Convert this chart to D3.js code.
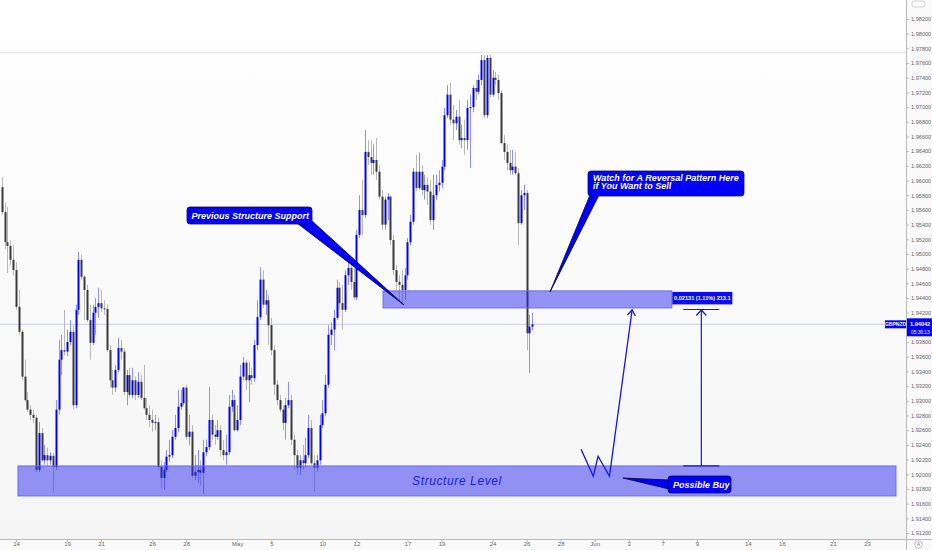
<!DOCTYPE html>
<html><head><meta charset="utf-8">
<script src="https://cdn.jsdelivr.net/npm/d3@7"></script>
<style>
html,body{margin:0;padding:0;background:#fafafa;}
svg{display:block;font-family:"Liberation Sans",Arial,sans-serif;}
</style></head>
<body>
<svg id="c" width="932" height="550"></svg>
<script>
// GBPNZD 4H candles: [open, high, low, close]; first candle is index -5 (Apr 13, 2021)
const firstIndex = -5;
const ohlc = [
[1.9591,1.9605,1.9553,1.9557],[1.9557,1.9570,1.9507,1.9516],[1.9516,1.9564,1.9474,1.9511],[1.9511,1.9519,1.9485,1.9492],
[1.9492,1.9512,1.9471,1.9478],[1.9478,1.9489,1.9424,1.9428],[1.9428,1.9451,1.9390,1.9394],[1.9394,1.9397,1.9328,1.9333],
[1.9333,1.9356,1.9298,1.9301],[1.9301,1.9312,1.9285,1.9288],[1.9288,1.9294,1.9274,1.9281],[1.9281,1.9288,1.9270,1.9277],
[1.9277,1.9281,1.9203,1.9206],[1.9206,1.9271,1.9203,1.9256],[1.9256,1.9263,1.9217,1.9219],[1.9219,1.9240,1.9213,1.9226],
[1.9226,1.9236,1.9211,1.9219],[1.9219,1.9230,1.9213,1.9225],[1.9225,1.9229,1.9175,1.9210],[1.9210,1.9301,1.9206,1.9288],
[1.9288,1.9383,1.9281,1.9356],[1.9356,1.9390,1.9335,1.9369],[1.9369,1.9424,1.9362,1.9367],[1.9367,1.9397,1.9361,1.9380],
[1.9380,1.9410,1.9376,1.9394],[1.9394,1.9403,1.9288,1.9294],[1.9294,1.9431,1.9290,1.9424],[1.9424,1.9503,1.9417,1.9492],
[1.9492,1.9499,1.9465,1.9469],[1.9469,1.9471,1.9410,1.9451],[1.9451,1.9458,1.9407,1.9410],[1.9410,1.9431,1.9356,1.9379],
[1.9379,1.9431,1.9376,1.9420],[1.9420,1.9440,1.9390,1.9428],[1.9428,1.9454,1.9413,1.9433],[1.9433,1.9451,1.9421,1.9426],
[1.9426,1.9437,1.9417,1.9425],[1.9425,1.9431,1.9367,1.9369],[1.9369,1.9376,1.9318,1.9328],[1.9328,1.9342,1.9308,1.9318],
[1.9318,1.9349,1.9312,1.9342],[1.9342,1.9386,1.9339,1.9372],[1.9372,1.9383,1.9356,1.9367],[1.9367,1.9372,1.9308,1.9312],
[1.9312,1.9342,1.9294,1.9335],[1.9335,1.9345,1.9304,1.9308],[1.9308,1.9345,1.9304,1.9328],[1.9328,1.9333,1.9301,1.9308],
[1.9308,1.9339,1.9304,1.9326],[1.9326,1.9335,1.9301,1.9304],[1.9304,1.9349,1.9288,1.9290],[1.9290,1.9304,1.9274,1.9281],
[1.9281,1.9294,1.9264,1.9274],[1.9274,1.9288,1.9258,1.9270],[1.9270,1.9281,1.9260,1.9271],[1.9271,1.9277,1.9206,1.9210],
[1.9210,1.9219,1.9181,1.9195],[1.9195,1.9217,1.9179,1.9206],[1.9206,1.9233,1.9203,1.9224],[1.9224,1.9247,1.9217,1.9226],
[1.9226,1.9260,1.9222,1.9251],[1.9251,1.9281,1.9247,1.9263],[1.9263,1.9315,1.9258,1.9292],[1.9292,1.9315,1.9288,1.9297],
[1.9297,1.9319,1.9294,1.9318],[1.9318,1.9322,1.9247,1.9251],[1.9251,1.9281,1.9240,1.9258],[1.9258,1.9267,1.9195,1.9198],
[1.9198,1.9226,1.9192,1.9203],[1.9203,1.9233,1.9188,1.9206],[1.9206,1.9219,1.9185,1.9202],[1.9202,1.9247,1.9173,1.9230],
[1.9230,1.9247,1.9225,1.9237],[1.9237,1.9319,1.9233,1.9274],[1.9274,1.9281,1.9247,1.9254],[1.9254,1.9267,1.9240,1.9251],
[1.9251,1.9274,1.9247,1.9260],[1.9260,1.9267,1.9224,1.9233],[1.9233,1.9247,1.9219,1.9226],[1.9226,1.9254,1.9213,1.9230],
[1.9230,1.9308,1.9226,1.9292],[1.9292,1.9315,1.9285,1.9301],[1.9301,1.9308,1.9258,1.9260],[1.9260,1.9294,1.9258,1.9274],
[1.9274,1.9349,1.9267,1.9333],[1.9333,1.9360,1.9328,1.9352],[1.9352,1.9356,1.9315,1.9328],[1.9328,1.9353,1.9298,1.9335],
[1.9335,1.9345,1.9322,1.9331],[1.9331,1.9383,1.9326,1.9376],[1.9376,1.9437,1.9369,1.9414],[1.9414,1.9482,1.9410,1.9465],
[1.9465,1.9478,1.9426,1.9431],[1.9431,1.9451,1.9417,1.9437],[1.9437,1.9444,1.9376,1.9403],[1.9403,1.9413,1.9362,1.9369],
[1.9369,1.9376,1.9308,1.9322],[1.9322,1.9328,1.9294,1.9301],[1.9301,1.9308,1.9285,1.9288],[1.9288,1.9294,1.9260,1.9270],
[1.9270,1.9304,1.9247,1.9294],[1.9294,1.9326,1.9290,1.9301],[1.9301,1.9308,1.9240,1.9247],[1.9247,1.9254,1.9206,1.9226],
[1.9226,1.9233,1.9199,1.9209],[1.9209,1.9226,1.9199,1.9219],[1.9219,1.9240,1.9206,1.9215],[1.9215,1.9250,1.9209,1.9226],
[1.9226,1.9281,1.9222,1.9263],[1.9263,1.9274,1.9213,1.9215],[1.9215,1.9226,1.9176,1.9209],[1.9209,1.9226,1.9203,1.9219],
[1.9219,1.9281,1.9213,1.9267],[1.9267,1.9301,1.9263,1.9283],[1.9283,1.9335,1.9279,1.9322],[1.9322,1.9403,1.9318,1.9390],
[1.9390,1.9407,1.9376,1.9397],[1.9397,1.9424,1.9369,1.9413],[1.9413,1.9465,1.9410,1.9454],[1.9454,1.9462,1.9424,1.9433],
[1.9433,1.9458,1.9397,1.9424],[1.9424,1.9478,1.9421,1.9471],[1.9471,1.9489,1.9458,1.9481],[1.9481,1.9485,1.9451,1.9462],
[1.9462,1.9481,1.9437,1.9441],[1.9441,1.9533,1.9437,1.9526],[1.9526,1.9580,1.9522,1.9560],[1.9560,1.9601,1.9526,1.9553],
[1.9553,1.9669,1.9549,1.9639],[1.9639,1.9655,1.9621,1.9632],[1.9632,1.9655,1.9608,1.9624],[1.9624,1.9649,1.9608,1.9628],
[1.9628,1.9658,1.9601,1.9612],[1.9612,1.9621,1.9574,1.9578],[1.9578,1.9587,1.9533,1.9540],[1.9540,1.9578,1.9533,1.9574],
[1.9574,1.9583,1.9546,1.9578],[1.9578,1.9580,1.9512,1.9519],[1.9519,1.9526,1.9471,1.9478],[1.9478,1.9485,1.9451,1.9462],
[1.9462,1.9471,1.9437,1.9458],[1.9458,1.9478,1.9431,1.9451],[1.9451,1.9481,1.9437,1.9471],[1.9471,1.9522,1.9465,1.9516],
[1.9516,1.9553,1.9512,1.9544],[1.9544,1.9617,1.9540,1.9612],[1.9612,1.9635,1.9585,1.9590],[1.9590,1.9638,1.9587,1.9612],
[1.9612,1.9621,1.9580,1.9587],[1.9587,1.9608,1.9574,1.9594],[1.9594,1.9604,1.9567,1.9585],[1.9585,1.9601,1.9540,1.9546],
[1.9546,1.9608,1.9533,1.9580],[1.9580,1.9608,1.9574,1.9594],[1.9594,1.9614,1.9585,1.9597],[1.9597,1.9628,1.9590,1.9619],
[1.9619,1.9699,1.9614,1.9689],[1.9689,1.9730,1.9685,1.9717],[1.9717,1.9733,1.9676,1.9683],[1.9683,1.9703,1.9655,1.9678],
[1.9678,1.9696,1.9669,1.9687],[1.9687,1.9710,1.9649,1.9655],[1.9655,1.9676,1.9644,1.9658],[1.9658,1.9683,1.9635,1.9655],
[1.9655,1.9710,1.9642,1.9699],[1.9699,1.9717,1.9617,1.9700],[1.9700,1.9730,1.9693,1.9726],[1.9726,1.9737,1.9710,1.9721],
[1.9721,1.9744,1.9717,1.9737],[1.9737,1.9771,1.9730,1.9764],[1.9764,1.9770,1.9685,1.9689],[1.9689,1.9771,1.9685,1.9767],
[1.9767,1.9771,1.9713,1.9717],[1.9717,1.9751,1.9714,1.9740],[1.9740,1.9748,1.9730,1.9737],[1.9737,1.9744,1.9710,1.9719],
[1.9719,1.9723,1.9649,1.9651],[1.9651,1.9662,1.9628,1.9639],[1.9639,1.9649,1.9614,1.9624],[1.9624,1.9642,1.9608,1.9614],
[1.9614,1.9642,1.9608,1.9619],[1.9619,1.9639,1.9608,1.9610],[1.9610,1.9617,1.9512,1.9542],[1.9542,1.9587,1.9540,1.9580],
[1.9580,1.9594,1.9560,1.9583],[1.9583,1.9587,1.9369,1.9392],[1.9392,1.9417,1.9338,1.9401],[1.9401,1.9420,1.9396,1.94042]
];

// time axis: labels and their trading-day offsets from Apr 14 (6 candles per day)
const timeLabels = ["14","19","21","26","28","May","5","10","12","17","19","24","26","28","Jun","3","7","9","14","16","21","23"];
const timeDays   = [0,3,5,8,10,13,15,18,20,23,25,28,30,32,34,36,38,40,43,45,48,50];
const candlesPerDay = 6;

// price axis
const priceTicks = d3.range(0, 37).map(k => 1.912 + k * 0.002);
const lastPrice = 1.94042;
const symbol = "GBPNZD";
const countdown = "05:36:13";

// drawings (price levels & candle indices)
const upperZone = {p1: 1.94497, p2: 1.94265, i1: 129.4, i2: 231.2};
const lowerZone = {p1: 1.92113, p2: 1.91705, i1: 0.7, i2: 310.2, label: "Structure Level"};
const measure   = {from: 1.92113, to: 1.94244, i: 241.6, label: "0.02131 (1.11%) 213.1"};
const wPath     = [[199.2,1.92340],[203.5,1.91972],[205.2,1.92245],[209.2,1.91972],[217.2,1.94240]];
const highLine  = 1.97750;

const svg = d3.select("#c");
const W = 932, H = 550, plotR = 906, plotB = 539;

const x = d3.scaleLinear().domain([0, 300]).range([16, 867]);
const y = d3.scaleLinear().domain([1.912, 1.982]).range([533, 19]);

svg.append("rect").attr("width", W).attr("height", H).attr("fill", "#fafafa");
const defs = svg.append("defs");
defs.append("clipPath").attr("id","plot").append("rect").attr("x",0).attr("y",0).attr("width",plotR).attr("height",plotB);
const lg = defs.append("linearGradient").attr("id","bg").attr("x1",0).attr("y1",0).attr("x2",0).attr("y2",1);
lg.append("stop").attr("offset","0%").attr("stop-color","#ffffff");
lg.append("stop").attr("offset","100%").attr("stop-color","#f5f5f5");
svg.append("rect").attr("width", plotR).attr("height", plotB).attr("fill", "url(#bg)");

const plot = svg.append("g").attr("clip-path","url(#plot)");

// faint high line
plot.append("line").attr("x1",0).attr("x2",plotR).attr("y1",Math.round(y(highLine))+0.5).attr("y2",Math.round(y(highLine))+0.5)
  .attr("stroke","#e6e6e6").attr("stroke-width",1.5);

// last price line
plot.append("line").attr("x1",0).attr("x2",plotR).attr("y1",y(lastPrice)).attr("y2",y(lastPrice))
  .attr("stroke","#c9c9f2").attr("stroke-width",1);

// candles
const cx = (k) => Math.round(x(k + firstIndex));
const bull = d => d[3] >= d[0];
plot.append("g").selectAll("line").data(ohlc).join("line")
  .attr("x1",(d,k)=>cx(k)+0.5).attr("x2",(d,k)=>cx(k)+0.5)
  .attr("y1",d=>y(d[1])).attr("y2",d=>y(d[2]))
  .attr("stroke",d=>bull(d)?"#8f8fff":"#b8b8b8").attr("stroke-width",1);
plot.append("g").selectAll("rect").data(ohlc).join("rect")
  .attr("x",(d,k)=>cx(k)-0.5).attr("width",2)
  .attr("y",d=>y(Math.max(d[0],d[3])))
  .attr("height",d=>Math.max(1, Math.abs(y(d[0])-y(d[3]))))
  .attr("fill",d=>bull(d)?"#0000ff":"#3a3a3a");

// zones
function zone(z){
  plot.append("rect").attr("x",x(z.i1)).attr("y",y(z.p1)).attr("width",x(z.i2)-x(z.i1)).attr("height",y(z.p2)-y(z.p1))
    .attr("fill","rgba(40,40,240,0.49)").attr("stroke","#6a6af2").attr("stroke-width",1);
}
zone(upperZone); zone(lowerZone);
plot.append("text").attr("x",(x(lowerZone.i1)+x(lowerZone.i2))/2).attr("y",(y(lowerZone.p1)+y(lowerZone.p2))/2+4)
  .attr("text-anchor","middle").attr("font-size",12).attr("font-style","italic").attr("letter-spacing",0.6)
  .attr("fill","#1c1ce0").text(lowerZone.label);

// W path with arrow
const blue = "#1414f0";
const line = d3.line().x(d=>x(d[0])).y(d=>y(d[1]));
plot.append("path").attr("d",line(wPath)).attr("fill","none").attr("stroke",blue).attr("stroke-width",1.3);
{
  const a = wPath[wPath.length-1], b = wPath[wPath.length-2];
  const ax = x(a[0]), ay = y(a[1]), bx = x(b[0]), by = y(b[1]);
  const ang = Math.atan2(ay-by, ax-bx), L = 7, s = 0.6;
  plot.append("path").attr("d",`M${ax-L*Math.cos(ang-s)},${ay-L*Math.sin(ang-s)}L${ax},${ay}L${ax-L*Math.cos(ang+s)},${ay-L*Math.sin(ang+s)}`)
    .attr("fill","none").attr("stroke",blue).attr("stroke-width",1.3);
}

// measurement
{
  const mx = x(measure.i), y1 = y(measure.from), y2 = y(measure.to);
  plot.append("line").attr("x1",mx).attr("x2",mx).attr("y1",y1).attr("y2",y2).attr("stroke",blue).attr("stroke-width",1.2);
  [y1,y2].forEach(v=>plot.append("line").attr("x1",mx-18).attr("x2",mx+18).attr("y1",v).attr("y2",v).attr("stroke",blue).attr("stroke-width",1.2));
  plot.append("path").attr("d",`M${mx-5},${y2+6}L${mx},${y2+0.5}L${mx+5},${y2+6}`).attr("fill","none").attr("stroke",blue).attr("stroke-width",1.2);
  const lx = x(upperZone.i2)+0.5, ly = y(upperZone.p1)+1;
  plot.append("rect").attr("x",lx).attr("y",ly).attr("width",60).attr("height",12.5).attr("fill","#0a0af5");
  plot.append("text").attr("x",lx+30).attr("y",ly+8.4).attr("text-anchor","middle").attr("font-size",5.6).attr("font-weight","bold")
    .attr("fill","#fff").text(measure.label);
}

// callouts
function callout(box, tail, lines){
  plot.append("path").attr("d","M"+tail.map(p=>p.join(",")).join("L")+"Z").attr("fill","#0000ff").attr("stroke","#0b0b55").attr("stroke-width",0.9);
  plot.append("rect").attr("x",box[0]).attr("y",box[1]).attr("width",box[2]).attr("height",box[3]).attr("rx",3)
    .attr("fill","#0000ff").attr("stroke","#0b0b55").attr("stroke-width",0.8);
  lines.forEach((t,k)=>plot.append("text").attr("x",box[0]+box[4]).attr("y",box[1]+box[5]+k*8.8)
    .attr("font-size",9).attr("font-weight","bold").attr("font-style","italic").attr("fill","#fff").text(t));
}
callout([187,207,125,17,4.5,11.8],[[297,223],[311,220],[404,305]],["Previous Structure Support"]);
callout([588,171,156,25,5,9.5],[[590,195],[599,195],[550,292]],["Watch for A Reversal Pattern Here","if You Want to Sell"]);
callout([668,476,63,17,5,11.8],[[669,480],[669,489],[623,478]],["Possible Buy"]);

// axes
const tickVals = timeDays.map(d=>d*candlesPerDay);
const labelOf = new Map(tickVals.map((v,k)=>[v,timeLabels[k]]));
const xAxis = d3.axisBottom(x).tickValues(tickVals)
  .tickFormat(d=>labelOf.get(d)).tickSize(3).tickSizeOuter(0);
const gx = svg.append("g").attr("transform",`translate(0,${plotB})`).call(xAxis);
gx.select(".domain").attr("d",`M0,0.5H${W}`).attr("stroke","#b8b8b8");
gx.selectAll(".tick line").attr("stroke","#b8b8b8");
gx.selectAll(".tick text").attr("font-size",6).attr("fill","#666").attr("dy","0.2em").attr("font-family","Liberation Sans, Arial, sans-serif");

const yAxis = d3.axisRight(y).tickValues(priceTicks).tickFormat(d3.format(".5f")).tickSize(3).tickSizeOuter(0);
const gy = svg.append("g").attr("transform",`translate(${plotR},0)`).call(yAxis);
gy.select(".domain").attr("d",`M0.5,0V${H}`).attr("stroke","#b8b8b8");
gy.selectAll(".tick line").attr("stroke","#b8b8b8");
gy.selectAll(".tick text").attr("font-size",5.6).attr("fill","#666").attr("x",5).attr("font-family","Liberation Sans, Arial, sans-serif");
gy.selectAll(".tick").filter(d=>d>1.9835 || d<1.9115 || Math.abs(y(d)-y(lastPrice))<11).remove();

// last price labels
const ly = y(lastPrice);
svg.append("rect").attr("x",885).attr("y",ly-4).attr("width",21).attr("height",8).attr("fill","#0000ff");
svg.append("text").attr("x",895.5).attr("y",ly+2).attr("text-anchor","middle").attr("font-size",5).attr("font-weight","bold").attr("fill","#fff").text(symbol);
svg.append("rect").attr("x",907).attr("y",ly-6).attr("width",25).attr("height",18).attr("fill","#0000ff");
svg.append("text").attr("x",910).attr("y",ly+1.5).attr("font-size",5.6).attr("font-weight","bold").attr("fill","#fff").text(d3.format(".5f")(lastPrice));
svg.append("text").attr("x",911).attr("y",ly+9.5).attr("font-size",4.8).attr("fill","#fff").text(countdown);

// auto-scale button & corner badge
svg.append("rect").attr("x",907).attr("y",540).attr("width",25).attr("height",10).attr("fill","#fafafa");
svg.append("circle").attr("cx",918.5).attr("cy",544.5).attr("r",3.8).attr("fill","none").attr("stroke","#aaa").attr("stroke-width",0.7);
svg.append("text").attr("x",918.5).attr("y",546.3).attr("text-anchor","middle").attr("font-size",4.5).attr("fill","#777").text("A");
svg.append("rect").attr("x",912).attr("y",1).attr("width",13).attr("height",6).attr("rx",2).attr("fill","#fafafa").attr("stroke","#bbb").attr("stroke-width",0.6);
</script>
</body></html>
